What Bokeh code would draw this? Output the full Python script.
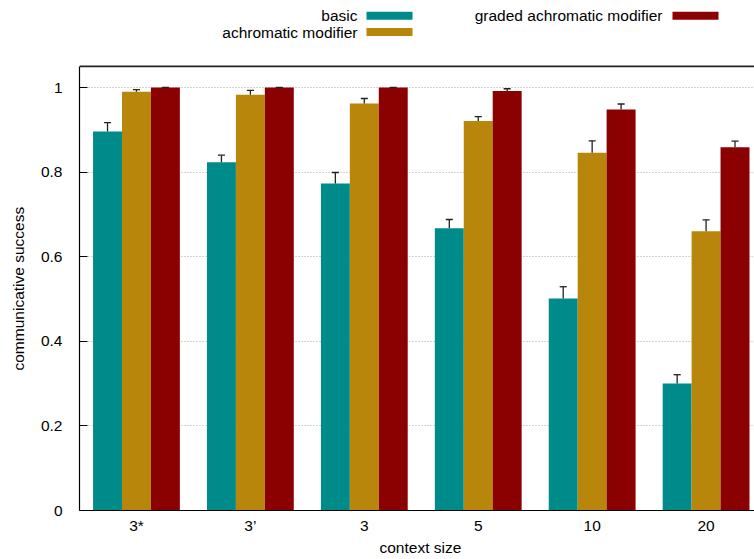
from bokeh.plotting import figure
from bokeh.models import Range1d, FixedTicker, Span, Title
from bokeh.core.properties import value
from bokeh.embed import file_html
from bokeh.resources import INLINE

# ---- data ----
categories = ["3*", "3\u2019", "3", "5", "10", "20"]
series_names = ["basic", "achromatic modifier", "graded achromatic modifier"]
basic = [0.896, 0.823, 0.773, 0.667, 0.501, 0.300]
basic_err = [0.021, 0.017, 0.026, 0.021, 0.028, 0.021]
achromatic = [0.990, 0.983, 0.962, 0.921, 0.846, 0.660]
achromatic_err = [0.005, 0.010, 0.012, 0.010, 0.028, 0.027]
graded = [1.0, 1.0, 1.0, 0.992, 0.948, 0.859]
graded_err = [0.0, 0.0, 0.0, 0.005, 0.013, 0.014]
y_ticks = [0, 0.2, 0.4, 0.6, 0.8, 1.0]
y_tick_labels = ["0", "0.2", "0.4", "0.6", "0.8", "1"]
y_max = 1.05

# ---- style ----
colors = ["#008b8b", "#b8860b", "#8b0000"]
FONT = "Liberation Sans"
FS = "15.5px"
bar_w = 0.254
cap_half = 0.031

series = [basic, achromatic, graded]
errors = [basic_err, achromatic_err, graded_err]

# frame spans page y 0..510; data 0..1.05 occupies 66..510
p = figure(frame_width=675, frame_height=510,
           x_range=Range1d(-0.5, 5.425), y_range=Range1d(0, 510 / 423),
           output_backend="svg", toolbar_location=None,
           min_border_left=79, min_border_right=0, min_border_top=0,
           min_border_bottom=0)
p.outline_line_color = None
p.background_fill_color = "white"
p.border_fill_color = "white"

# pixel-like ranges for the legend that sits above the data area
p.extra_x_ranges = {"px": Range1d(79, 754)}
p.extra_y_ranges = {"px": Range1d(510, 0)}

for k, (vals, errs) in enumerate(zip(series, errors)):
    off = (k - 1) * bar_w
    xs = [i + off for i in range(len(categories))]
    p.vbar(x=xs, top=vals, bottom=0, width=bar_w,
           fill_color=colors[k], line_color=None)

for k, (vals, errs) in enumerate(zip(series, errors)):
    off = (k - 1) * bar_w
    xs = [i + off for i in range(len(categories))]
    tops = [v + e for v, e in zip(vals, errs)]
    p.segment(x0=xs, y0=vals, x1=xs, y1=tops, line_color="#222222", line_width=1.3)
    p.segment(x0=[x - cap_half for x in xs], y0=tops,
              x1=[x + cap_half for x in xs], y1=tops,
              line_color="#222222", line_width=1.3)

# top border of the plot area
p.add_layout(Span(location=y_max, dimension="width", line_color="#222222",
                  line_width=1.6))

# grid
p.xgrid.visible = False
p.ygrid.ticker = FixedTicker(ticks=y_ticks[1:])
p.ygrid.grid_line_color = "#a8a8a8"
p.ygrid.grid_line_dash = "1 2"
p.ygrid.grid_line_width = 1

# y axis
ya = p.yaxis[0]
ya.bounds = (0, y_max)
ya.ticker = FixedTicker(ticks=y_ticks)
ya.major_label_overrides = dict(zip(y_ticks, y_tick_labels))
ya.major_tick_in = 8
ya.major_tick_out = 0
ya.minor_tick_in = 0
ya.minor_tick_out = 0
ya.major_label_standoff = 17

xa = p.xaxis[0]
xa.ticker = FixedTicker(ticks=list(range(len(categories))))
xa.major_label_overrides = {i: c for i, c in enumerate(categories)}
xa.major_tick_in = 0
xa.major_tick_out = 0
xa.minor_tick_in = 0
xa.minor_tick_out = 0
xa.major_label_standoff = 6

for ax in (ya, xa):
    ax.major_label_text_font = FONT
    ax.major_label_text_font_size = FS
    ax.major_label_text_color = "black"
    ax.axis_line_color = "black"
    ax.axis_line_width = 1.2
    ax.major_tick_line_color = "black"

# axis titles
p.add_layout(Title(text="communicative success", align="left", offset=140,
                   vertical_align="top", standoff=18, text_font=FONT,
                   text_font_size=FS, text_font_style="normal",
                   text_color="black"), "left")
p.add_layout(Title(text="context size", align="left", offset=300,
                   standoff=0, text_font=FONT, text_font_size=FS,
                   text_font_style="normal", text_color="black"), "below")

# ---- legend (page-pixel coordinates via extra ranges) ----
leg_text_right = [357, 357, 662]
leg_y = [15.3, 31.5, 15.3]
leg_sw_left = [366, 366, 672]
sw_w = 46
sw_h = 8

p.text(x=leg_text_right, y=leg_y, text=series_names, text_align="right",
       text_baseline="middle", text_font=value(FONT), text_font_size=FS,
       text_color="black", x_range_name="px", y_range_name="px")
p.quad(left=leg_sw_left, right=[l + sw_w for l in leg_sw_left],
       top=[y - sw_h / 2 for y in leg_y], bottom=[y + sw_h / 2 for y in leg_y],
       fill_color=colors, line_color=None, x_range_name="px", y_range_name="px")

open("out.html", "w").write(file_html(p, INLINE))
